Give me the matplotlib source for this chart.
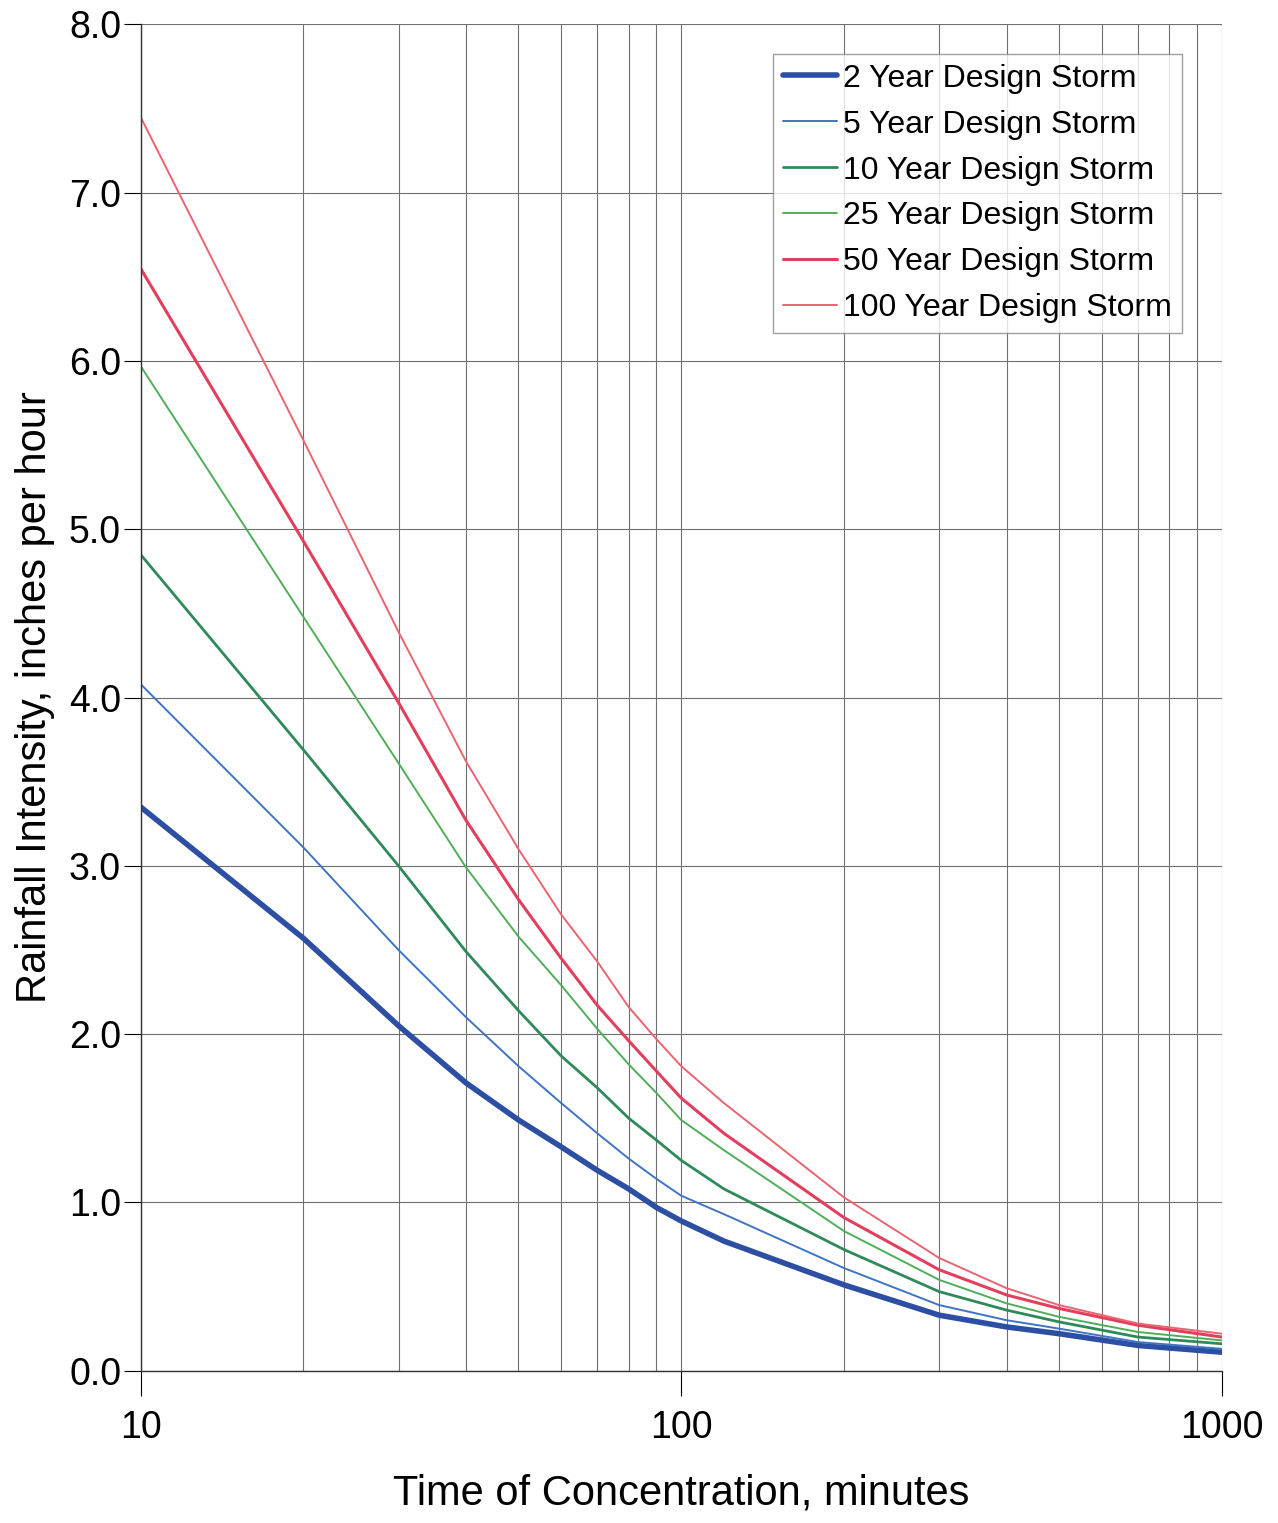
import matplotlib
matplotlib.use("Agg")
import matplotlib.pyplot as plt
from matplotlib.ticker import FixedLocator, NullFormatter

plt.rcParams['font.family'] = ['Liberation Sans', 'DejaVu Sans']

# Time of concentration (minutes) and rainfall intensity (in/hr)
minutes = [10, 20, 30, 40, 50, 60, 70, 80, 90, 100, 120, 200, 300, 400, 500, 700, 1000]
storm_2yr = [3.35, 2.57, 2.05, 1.71, 1.49, 1.33, 1.19, 1.08, 0.97, 0.89, 0.77, 0.51, 0.33, 0.26, 0.22, 0.15, 0.11]
storm_5yr = [4.08, 3.11, 2.50, 2.10, 1.81, 1.59, 1.41, 1.26, 1.14, 1.04, 0.93, 0.61, 0.39, 0.30, 0.25, 0.17, 0.13]
storm_10yr = [4.85, 3.69, 3.00, 2.49, 2.14, 1.87, 1.68, 1.50, 1.37, 1.25, 1.08, 0.72, 0.47, 0.36, 0.29, 0.20, 0.16]
storm_25yr = [5.97, 4.48, 3.61, 2.99, 2.58, 2.29, 2.03, 1.82, 1.65, 1.49, 1.31, 0.83, 0.54, 0.40, 0.32, 0.23, 0.18]
storm_50yr = [6.55, 4.93, 3.97, 3.27, 2.80, 2.45, 2.17, 1.96, 1.78, 1.62, 1.41, 0.91, 0.60, 0.45, 0.37, 0.27, 0.20]
storm_100yr = [7.45, 5.53, 4.39, 3.62, 3.10, 2.71, 2.43, 2.16, 1.97, 1.81, 1.59, 1.03, 0.67, 0.49, 0.39, 0.28, 0.22]

labels = ["2 Year Design Storm", "5 Year Design Storm", "10 Year Design Storm",
          "25 Year Design Storm", "50 Year Design Storm", "100 Year Design Storm"]
series = [storm_2yr, storm_5yr, storm_10yr, storm_25yr, storm_50yr, storm_100yr]
colors = ["#2d4fa3", "#3f74c4", "#2e8a5a", "#4fae58", "#e23f5e", "#ea6470"]
widths = [4.0, 1.4, 2.0, 1.4, 2.2, 1.4]

fig = plt.figure(figsize=(12.78, 15.23), dpi=100)
ax = fig.add_axes([0.110, 0.100, 0.846, 0.884])

for vals, lab, col, lw in zip(series, labels, colors, widths):
    ax.plot(minutes, vals, color=col, linewidth=lw, label=lab, solid_capstyle='round')

ax.set_xscale('log')
ax.set_xlim(10, 1000)
ax.set_ylim(0, 8)

# Gridlines at every decade subdivision, y every 1.0
ax.xaxis.set_major_locator(FixedLocator([10, 100, 1000]))
ax.xaxis.set_minor_locator(FixedLocator([v * d for d in (10, 100) for v in range(2, 10)]))
ax.xaxis.set_minor_formatter(NullFormatter())
ax.set_xticklabels(["10", "100", "1000"])
ax.set_yticks([0, 1, 2, 3, 4, 5, 6, 7, 8])
ax.set_yticklabels([f"{v:.1f}" for v in range(9)])

ax.grid(True, which='both', axis='x', color='#707070', linewidth=0.8)
ax.grid(True, which='major', axis='y', color='#707070', linewidth=0.8)
ax.set_axisbelow(True)

ax.spines['top'].set_visible(False)
ax.spines['right'].set_visible(False)
ax.spines['left'].set_color('#333333')
ax.spines['bottom'].set_color('#333333')
ax.spines['left'].set_linewidth(1.0)
ax.spines['bottom'].set_linewidth(1.0)

ax.tick_params(axis='y', which='major', length=12, width=0.8, labelsize=27, pad=2)
ax.tick_params(axis='x', which='major', length=18, width=0.8, labelsize=27, pad=10)
ax.tick_params(axis='x', which='minor', length=0)

ax.set_xlabel("Time of Concentration, minutes", fontsize=30, labelpad=20)
ax.set_ylabel("Rainfall Intensity, inches per hour", fontsize=30, labelpad=10)

leg = ax.legend(loc='upper right', bbox_to_anchor=(0.963, 0.978), fontsize=23,
                frameon=True, fancybox=False, edgecolor='#888888', handlelength=1.7,
                handletextpad=0.2, borderpad=0.3, labelspacing=0.5, borderaxespad=0)
leg.get_frame().set_linewidth(1.0)

plt.savefig("out.png", dpi=100)
plt.close()
